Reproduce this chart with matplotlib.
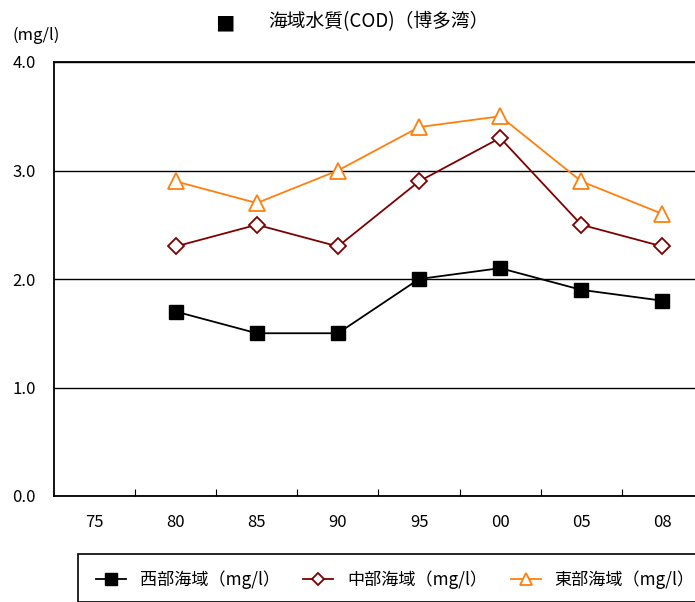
import matplotlib.pyplot as plt
import matplotlib.patches as mpatches

plt.rcParams['font.family'] = ['Noto Sans CJK JP', 'DejaVu Sans']

years = ['75', '80', '85', '90', '95', '00', '05', '08']
west = [None, 1.7, 1.5, 1.5, 2.0, 2.1, 1.9, 1.8]
central = [None, 2.3, 2.5, 2.3, 2.9, 3.3, 2.5, 2.3]
east = [None, 2.9, 2.7, 3.0, 3.4, 3.5, 2.9, 2.6]
labels = ['西部海域（mg/l）', '中部海域（mg/l）', '東部海域（mg/l）']

W, H = 695, 602
fig = plt.figure(figsize=(W / 100, H / 100), dpi=100)
# plot area runs past the right edge, like the original
ax = fig.add_axes([54 / W, 1 - 496 / H, 649 / W, 434 / H])

x = list(range(len(years)))
def pts(vals):
    xs = [i for i, v in zip(x, vals) if v is not None]
    ys = [v for v in vals if v is not None]
    return xs, ys

xs, ys = pts(west)
h1, = ax.plot(xs, ys, color='black', lw=1.3, marker='s', ms=10,
              mfc='black', mec='black')
xs, ys = pts(central)
h2, = ax.plot(xs, ys, color='#7f0000', lw=1.3, marker='D', ms=8,
              mfc='white', mec='#7f0000', mew=1.3)
xs, ys = pts(east)
h3, = ax.plot(xs, ys, color='#ff7f0e', lw=1.3, marker='^', ms=11,
              mfc='white', mec='#ff7f0e', mew=1.3)

ax.set_xlim(-0.5, 7.5)
ax.set_ylim(0, 4)
ax.set_yticks([0, 1, 2, 3, 4])
ax.set_yticklabels(['0.0', '1.0', '2.0', '3.0', '4.0'], fontsize=12)
ax.tick_params(axis='y', length=0, pad=13)
ax.yaxis.grid(True, color='black', lw=1)
ax.set_axisbelow(True)

ax.set_xticks([i + 0.5 for i in range(len(years) - 1)], minor=False)
ax.set_xticklabels([])
ax.set_xticks(x, minor=True)
ax.set_xticklabels(years, minor=True, fontsize=12)
ax.tick_params(axis='x', which='major', direction='in', length=5, color='black')
ax.tick_params(axis='x', which='minor', length=0, pad=13)

for s in ['left', 'bottom', 'top']:
    ax.spines[s].set_linewidth(1.3)
ax.spines['right'].set_visible(False)

fig.text(12 / W, 1 - 35 / H, '(mg/l)', fontsize=12, va='center', ha='left')
fig.text(225 / W, 1 - 25 / H, '■', fontsize=14, va='center', ha='center')
fig.text(268 / W, 1 - 22 / H, '海域水質(COD)（博多湾）', fontsize=13.5,
         va='center', ha='left')

# legend frame
fig.patches.append(mpatches.Rectangle((78 / W, 0), 1, 1 - 554 / H,
                                      transform=fig.transFigure, fill=False,
                                      ec='black', lw=1.2))
fig.legend([h1, h2, h3], labels, loc='center left',
           bbox_to_anchor=(96 / W, 1 - 580 / H), ncol=3, frameon=False,
           borderpad=0, borderaxespad=0,
           fontsize=12.3, handlelength=1.75, columnspacing=1.4,
           handletextpad=0.8, markerscale=0.8)

fig.savefig('out.png', dpi=100)
